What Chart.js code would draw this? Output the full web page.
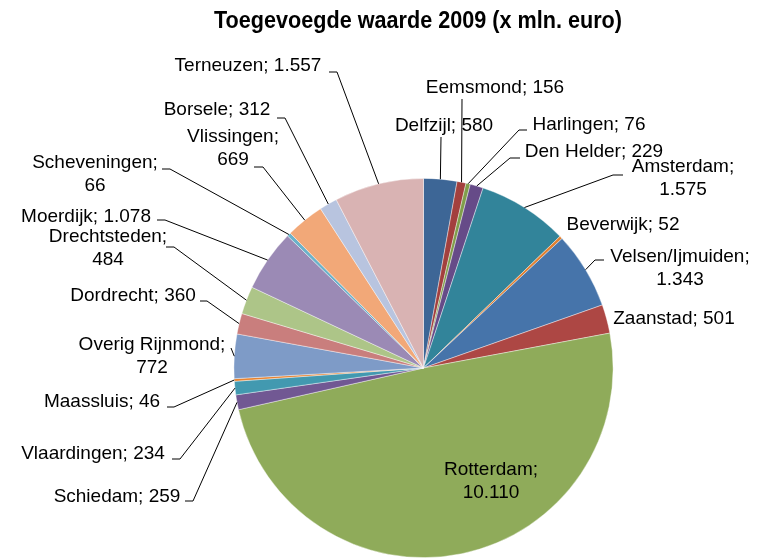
<!DOCTYPE html>
<html>
<head>
<meta charset="utf-8">
<script src="https://cdn.jsdelivr.net/npm/chart.js@4"></script>
<style>
  body { margin: 0; background: #fff; }
  #wrap { width: 762px; height: 558px; position: relative; }
</style>
</head>
<body>
<div id="wrap"><canvas id="myChart"></canvas></div>
<script>
// Data of the chart, clockwise from the top
const regions = ["Delfzijl", "Eemsmond", "Harlingen", "Den Helder", "Amsterdam", "Beverwijk",
  "Velsen/Ijmuiden", "Zaanstad", "Rotterdam", "Schiedam", "Vlaardingen", "Maassluis",
  "Overig Rijnmond", "Dordrecht", "Drechtsteden", "Moerdijk", "Scheveningen", "Vlissingen",
  "Borsele", "Terneuzen"];
const values = [580, 156, 76, 229, 1575, 52, 1343, 501, 10110, 259, 234, 46, 772, 360, 484,
  1078, 66, 669, 312, 1557];
// values as printed in the labels (dutch thousands separator)
const valueLabels = ["580", "156", "76", "229", "1.575", "52", "1.343", "501", "10.110", "259",
  "234", "46", "772", "360", "484", "1.078", "66", "669", "312", "1.557"];
const title = "Toegevoegde waarde 2009 (x mln. euro)";

const colors = ["#3D6696", "#A3403E", "#809E4B", "#664B88", "#32849A", "#E07F30", "#4674AA",
  "#AD4744", "#8FAB5A", "#715893", "#4299B0", "#E8832F", "#7E9BC7", "#C97E7D", "#ADC588",
  "#9B8AB5", "#6BB2C9", "#F2A878", "#B8C4DF", "#D9B3B3"];

// Where each label sits (center x, y of first line), if it breaks in two lines,
// and the leader line points next to the label (null = no leader)
const labelLayout = [
  { x: 444, y: 126, split: false, lead: [[441, 137]] },
  { x: 495, y: 88, split: false, lead: [[462, 99]] },
  { x: 589, y: 125, split: false, lead: [[527, 130], [519, 130]] },
  { x: 594, y: 152, split: false, lead: [[520, 158], [510, 158]] },
  { x: 683, y: 167, split: true, lead: [[623, 175], [613, 175]] },
  { x: 623, y: 225, split: false, lead: null },
  { x: 680, y: 257, split: true, lead: [[604, 260], [595, 260]] },
  { x: 674, y: 319, split: false, lead: null },
  { x: 491, y: 470, split: true, lead: null },
  { x: 117, y: 497, split: false, lead: [[185, 501], [193, 501]] },
  { x: 93, y: 454, split: false, lead: [[172, 459], [180, 459]] },
  { x: 102, y: 402, split: false, lead: [[167, 407], [174, 407]] },
  { x: 152, y: 345, split: true, lead: [[231, 348]] },
  { x: 133, y: 296, split: false, lead: [[200, 301], [207, 301]] },
  { x: 108, y: 237, split: true, lead: [[166, 247], [174, 247]] },
  { x: 86, y: 217, split: false, lead: [[157, 220], [165, 220]] },
  { x: 95, y: 163, split: true, lead: [[162, 169], [170, 169]] },
  { x: 233, y: 137, split: true, lead: [[254, 167], [263, 167]] },
  { x: 217, y: 110, split: false, lead: [[277, 118], [285, 118]] },
  { x: 248, y: 66, split: false, lead: [[329, 72], [337, 72]] }
];

// Plugin that draws the title, the data labels and the leader lines like Excel does
const excelLabels = {
  id: "excelLabels",
  afterDatasetsDraw(chart) {
    const ctx = chart.ctx;
    const meta = chart.getDatasetMeta(0);
    ctx.save();

    // leader lines, from the label to the middle of the slice edge
    ctx.strokeStyle = "#000";
    ctx.lineWidth = 1;
    meta.data.forEach((arc, i) => {
      const lay = labelLayout[i];
      if (!lay.lead) return;
      const p = arc.getProps(["x", "y", "startAngle", "endAngle", "outerRadius"], true);
      const mid = (p.startAngle + p.endAngle) / 2;
      const ex = p.x + Math.cos(mid) * p.outerRadius;
      const ey = p.y + Math.sin(mid) * p.outerRadius;
      ctx.beginPath();
      ctx.moveTo(lay.lead[0][0], lay.lead[0][1]);
      for (let k = 1; k < lay.lead.length; k++) ctx.lineTo(lay.lead[k][0], lay.lead[k][1]);
      ctx.lineTo(ex, ey);
      ctx.stroke();
    });

    // labels
    ctx.fillStyle = "#000";
    ctx.font = '19px "Liberation Sans", Arial, sans-serif';
    ctx.textAlign = "center";
    ctx.textBaseline = "middle";
    regions.forEach((name, i) => {
      const lay = labelLayout[i];
      if (lay.split) {
        ctx.fillText(name + ";", lay.x, lay.y);
        ctx.fillText(valueLabels[i], lay.x, lay.y + 22.5);
      } else {
        ctx.fillText(name + "; " + valueLabels[i], lay.x, lay.y);
      }
    });

    // title, bold and a bit narrow
    ctx.font = 'bold 23px "Liberation Sans", Arial, sans-serif';
    const w = ctx.measureText(title).width;
    const sx = 408 / w;
    ctx.translate(418, 22);
    ctx.scale(sx, 1);
    ctx.fillText(title, 0, 0);
    ctx.restore();
  }
};

const ctx = document.getElementById("myChart");
const myChart = new Chart(ctx, {
  type: "pie",
  data: {
    labels: regions,
    datasets: [
      {
        data: values,
        backgroundColor: colors,
        borderColor: "rgba(255,255,255,0.5)",
        borderWidth: 0.8
      }
    ]
  },
  options: {
    responsive: true,
    maintainAspectRatio: false,
    animation: false,
    layout: {
      padding: { left: 233.5, right: 148.5, top: 178, bottom: 0 }
    },
    plugins: {
      legend: { display: false },
      tooltip: { enabled: false }
    }
  },
  plugins: [excelLabels]
});
</script>
</body>
</html>
